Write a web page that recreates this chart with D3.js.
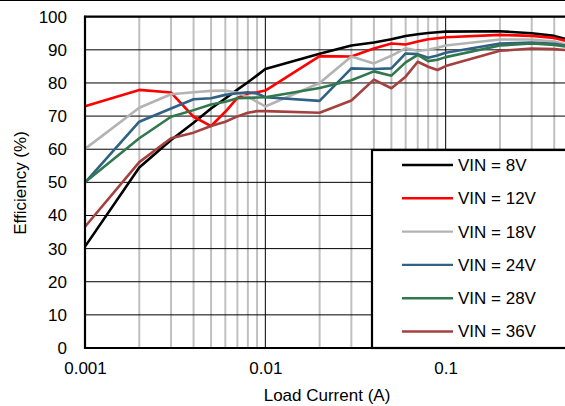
<!DOCTYPE html>
<html>
<head>
<meta charset="utf-8">
<script src="https://cdn.jsdelivr.net/npm/d3@7"></script>
<style>
  html, body { margin: 0; padding: 0; background: #fff; }
  svg { display: block; font-family: "Liberation Sans", Arial, sans-serif; }
</style>
</head>
<body>
<svg id="chart" width="565" height="406"></svg>
<script>
// ---- Data ----
const loadCurrent = [0.001,0.002,0.003,0.004,0.005,0.006,0.007,0.008,0.009,
                     0.01,0.02,0.03,0.04,0.05,0.06,0.07,0.08,0.09,
                     0.1,0.2,0.3,0.4,0.5];
const seriesNames = ["VIN = 8V","VIN = 12V","VIN = 18V","VIN = 24V","VIN = 28V","VIN = 36V"];
const vin8  = [30.6,54.5,62.8,68.0,72.3,75.3,78.0,80.2,82.3,84.2,88.8,91.3,92.2,93.2,94.2,94.7,95.1,95.3,95.5,95.6,95.0,94.2,92.8];
const vin12 = [73.0,77.9,77.1,69.8,67.0,71.3,75.5,76.8,77.2,77.7,88.1,88.0,90.4,91.9,91.6,92.5,93.2,93.5,93.8,94.5,94.2,93.6,92.3];
const vin18 = [60.1,72.5,76.6,77.2,77.6,77.7,77.0,75.8,74.3,72.9,80.0,88.0,85.9,88.2,90.5,89.7,90.0,90.6,91.3,93.1,93.1,92.5,91.3];
const vin24 = [49.9,68.3,72.3,75.1,75.4,76.4,76.9,77.2,76.8,75.7,74.6,84.4,84.2,84.4,88.9,88.7,87.6,88.3,89.1,91.9,92.2,91.8,91.0];
const vin28 = [50.0,63.3,69.8,71.8,73.5,74.3,75.4,75.5,75.6,75.7,78.5,80.8,83.5,82.2,86.2,88.5,86.6,87.0,87.8,91.3,91.9,91.5,90.7];
const vin36 = [36.6,56.1,63.3,65.0,67.0,68.3,69.9,71.0,71.5,71.5,71.0,74.7,81.0,78.4,81.9,86.4,84.9,83.9,85.1,89.7,90.4,90.2,89.8];
const seriesValues = [vin8, vin12, vin18, vin24, vin28, vin36];
const seriesColors = ["#000000","#ff0000","#b3b3b3","#2f6285","#31784f","#a4413f"];
const yTicks = [0,10,20,30,40,50,60,70,80,90,100];
const xMajorTicks = [0.001,0.01,0.1];
const xTickLabels = ["0.001","0.01","0.1"];
const xMinorTicks = [2,3,4,5,6,7,8,9].flatMap(m => [0.001*m, 0.01*m, 0.1*m]);

// ---- Layout ----
const svg = d3.select("#chart");
const pLeft = 85, pRight = 626, pTop = 16.7, pBottom = 348;
const x = d3.scaleLog().domain([0.001, 1]).range([pLeft, pRight]);
const y = d3.scaleLinear().domain([0, 100]).range([pBottom, pTop]);
const font = 17;

// top thin line of the image
svg.append("line").attr("x1",0).attr("x2",565).attr("y1",0.5).attr("y2",0.5)
   .attr("stroke","#000").attr("stroke-width",1);

// minor vertical gridlines
svg.append("g").selectAll("line").data(xMinorTicks).join("line")
  .attr("x1", d => x(d)).attr("x2", d => x(d))
  .attr("y1", pTop).attr("y2", pBottom)
  .attr("stroke", "#c0c0c0").attr("stroke-width", 2);

// horizontal gridlines
svg.append("g").selectAll("line").data(yTicks).join("line")
  .attr("x1", pLeft).attr("x2", pRight)
  .attr("y1", d => y(d)).attr("y2", d => y(d))
  .attr("stroke", "#000").attr("stroke-width", 1);

// major vertical gridlines
svg.append("g").selectAll("line").data(xMajorTicks.slice(1)).join("line")
  .attr("x1", d => x(d)).attr("x2", d => x(d))
  .attr("y1", pTop).attr("y2", pBottom)
  .attr("stroke", "#000").attr("stroke-width", 1);

// series
const line = d3.line().x(d => x(d[0])).y(d => y(d[1]));
seriesValues.forEach((vals, i) => {
  svg.append("path")
    .datum(loadCurrent.map((c, j) => [c, vals[j]]))
    .attr("d", line)
    .attr("fill", "none")
    .attr("stroke", seriesColors[i])
    .attr("stroke-width", 2.6)
    .attr("stroke-linejoin", "round");
});

// plot frame
svg.append("line").attr("x1", pLeft).attr("x2", pLeft).attr("y1", pTop - 1).attr("y2", pBottom + 1)
  .attr("stroke", "#000").attr("stroke-width", 2.2);
svg.append("line").attr("x1", pLeft - 1).attr("x2", pRight).attr("y1", pBottom).attr("y2", pBottom)
  .attr("stroke", "#000").attr("stroke-width", 2.2);
svg.append("line").attr("x1", pLeft - 1).attr("x2", pRight).attr("y1", pTop).attr("y2", pTop)
  .attr("stroke", "#000").attr("stroke-width", 2.2);

// y axis labels
const yAxis = d3.axisLeft(y).tickValues(yTicks).tickSize(0).tickPadding(18);
const gy = svg.append("g").attr("transform", `translate(${pLeft},0)`).call(yAxis);
gy.select(".domain").remove();
gy.selectAll("text").attr("font-size", font).attr("fill", "#000")
  .attr("font-family", "Liberation Sans, Arial, sans-serif");

// x axis labels
const xAxis = d3.axisBottom(x).tickValues(xMajorTicks).tickFormat((d, i) => xTickLabels[i]).tickSize(0).tickPadding(14);
const gx = svg.append("g").attr("transform", `translate(0,${pBottom})`).call(xAxis);
gx.select(".domain").remove();
gx.selectAll("text").attr("font-size", font).attr("fill", "#000")
  .attr("font-family", "Liberation Sans, Arial, sans-serif");

// axis titles
svg.append("text").attr("x", 327).attr("y", 401).attr("text-anchor", "middle")
  .attr("font-size", font).attr("fill", "#000").text("Load Current (A)");
svg.append("text").attr("transform", "translate(26,183) rotate(-90)").attr("text-anchor", "middle")
  .attr("font-size", font).attr("fill", "#000").text("Efficiency (%)");

// legend
const lg = svg.append("g");
lg.append("rect").attr("x", 372).attr("y", 150).attr("width", 400).attr("height", pBottom - 150)
  .attr("fill", "#fff").attr("stroke", "#000").attr("stroke-width", 2.2);
seriesNames.forEach((name, i) => {
  const yy = 165 + i * 33.3;
  lg.append("line").attr("x1", 402).attr("x2", 453).attr("y1", yy).attr("y2", yy)
    .attr("stroke", seriesColors[i]).attr("stroke-width", 2.4);
  lg.append("text").attr("x", 458).attr("y", yy).attr("dy", "0.35em")
    .attr("font-size", font).attr("fill", "#000").text(name);
});
</script>
</body>
</html>
